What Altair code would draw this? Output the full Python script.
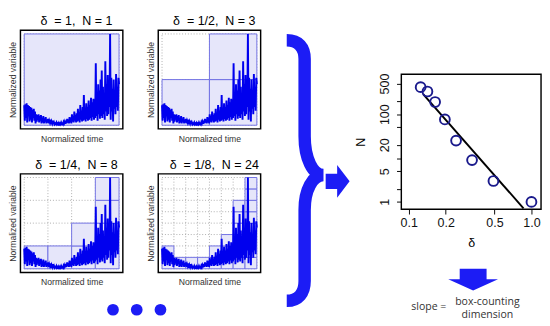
import altair as alt
import pandas as pd
import numpy as np

# ---------------- data ----------------
signal = [
    0.22, 0.05, 0.23, 0.08, 0.24, 0.03, 0.22, 0.10, 0.21, 0.04,
    0.20, 0.06, 0.19, 0.03, 0.17, 0.08, 0.18, 0.05, 0.15, 0.02,
    0.12, 0.04, 0.11, 0.06, 0.12, 0.03, 0.10, 0.05, 0.11, 0.02,
    0.08, 0.03, 0.10, 0.02, 0.07, 0.04, 0.09, 0.02, 0.06, 0.03,
    0.07, 0.02, 0.05, 0.03, 0.06, 0.01, 0.04, 0.02, 0.05, 0.01,
    0.03, 0.01, 0.02, 0.015, 0.03, 0.01, 0.02, 0.01, 0.025, 0.01,
    0.02, 0.01, 0.03, 0.015, 0.02, 0.01, 0.035, 0.02, 0.04, 0.015,
    0.05, 0.02, 0.07, 0.03, 0.06, 0.02, 0.09, 0.03, 0.08, 0.02,
    0.12, 0.04, 0.10, 0.03, 0.15, 0.05, 0.11, 0.03, 0.13, 0.04,
    0.18, 0.05, 0.14, 0.03, 0.22, 0.06, 0.16, 0.04, 0.20, 0.05,
    0.33, 0.06, 0.18, 0.04, 0.24, 0.07, 0.20, 0.05, 0.27, 0.06,
    0.22, 0.08, 0.30, 0.05, 0.25, 0.09, 0.29, 0.06, 0.24, 0.08,
    0.68, 0.10, 0.35, 0.05, 0.45, 0.12, 0.38, 0.07, 0.50, 0.10,
    0.60, 0.08, 0.42, 0.12, 0.35, 0.06, 0.70, 0.15, 0.45, 0.10,
    0.55, 0.12, 0.48, 0.20, 1.00, 0.06, 0.52, 0.15, 0.40, 0.04,
    0.50, 0.18, 0.38, 0.12, 0.56, 0.20, 0.42, 0.16, 0.52, 0.45,
]
panel_delta = ["1", "1/2", "1/4", "1/8"]
panel_N = [1, 3, 8, 24]
panel_div = [1, 2, 4, 8]
box_heights = [[1], [1, 2], [1, 1, 2, 4], [2, 1, 1, 1, 2, 3, 6, 8]]

delta_vals = [0.125, 0.142, 0.164, 0.197, 0.243, 0.328, 0.49, 1.0]
N_vals = [415, 330, 190, 76, 25, 9, 3, 1]
fit_delta = [0.131, 0.862]
fit_N = [287, 0.714]
x_ticks = [0.1, 0.2, 0.5, 1.0]
y_ticks = [1, 2, 5, 10, 20, 50, 100, 200, 500]

dots_x = [1, 2, 3]
caption = ["slope  =", "box-counting", "dimension"]

# ---------------- styles ----------------
LINE_BLUE = "#0000ee"
BOX_FILL = "#e6e6fa"
BOX_STROKE = "#6f6fe3"
BRACE_BLUE = "#1c1cf5"
FONT = "Liberation Sans"

BRACE_PATH = ("M -0.129 -0.936 C -0.043 -0.936 0 -0.886 0 -0.8 L 0 -0.243 "
              "C 0 -0.086 0.057 0.036 0.136 0.036 C 0.057 0.036 0 0.143 0 0.286 "
              "L 0 0.8 C 0 0.886 -0.043 0.943 -0.129 0.943")
RARROW_PATH = "M -0.6 -0.4 L 0 -0.4 L 0 -0.85 L 0.65 0 L 0 0.85 L 0 0.4 L -0.6 0.4 Z"
DARROW_PATH = "M -0.54 -0.42 L 0.54 -0.42 L 0.54 0 L 1 0 L 0 0.46 L -1 0 L -0.54 0 Z"

NOFRAME = alt.ViewBackground(stroke="transparent", strokeWidth=0)


def small_panel(i):
    n = panel_div[i]
    t = np.arange(len(signal)) / (len(signal) - 1)
    line_df = pd.DataFrame({"t": t, "v": signal})
    cells = [(c / n, (c + 1) / n, r / n, (r + 1) / n)
             for c, h in enumerate(box_heights[i]) for r in range(h)]
    cell_df = pd.DataFrame(cells, columns=["x", "x2", "y", "y2"])
    g = [k / n for k in range(n + 1)]
    vg = pd.DataFrame({"x": g, "y": 0.0, "y2": 1.0})
    hg = pd.DataFrame({"y": g, "x": 0.0, "x2": 1.0})
    sc = alt.Scale(domain=[-0.04, 1.04], nice=False, zero=False)
    xa = alt.Axis(title="Normalized time", labels=False, ticks=False, domain=False,
                  grid=False, titleFontSize=9, titlePadding=6, titleFontWeight="normal",
                  titleColor="#333333", titleFont=FONT)
    ya = alt.Axis(title="Normalized variable", labels=False, ticks=False, domain=False,
                  grid=False, titleFontSize=9, titlePadding=3, titleFontWeight="normal",
                  titleColor="#333333", titleFont=FONT)
    vgrid = alt.Chart(vg).mark_rule(color="#aaaaaa", strokeDash=[1, 2], strokeWidth=1).encode(
        x=alt.X("x:Q", scale=sc, axis=xa), y=alt.Y("y:Q", scale=sc, axis=ya), y2="y2:Q")
    hgrid = alt.Chart(hg).mark_rule(color="#aaaaaa", strokeDash=[1, 2], strokeWidth=1).encode(
        y=alt.Y("y:Q", scale=sc, axis=ya), x=alt.X("x:Q", scale=sc, axis=xa), x2="x2:Q")
    boxes = alt.Chart(cell_df).mark_rect(fill=BOX_FILL, stroke=BOX_STROKE, strokeWidth=1).encode(
        x=alt.X("x:Q", scale=sc, axis=xa), x2="x2:Q",
        y=alt.Y("y:Q", scale=sc, axis=ya), y2="y2:Q")
    line = alt.Chart(line_df).mark_line(color=LINE_BLUE, strokeWidth=2).encode(
        x=alt.X("t:Q", scale=sc, axis=xa), y=alt.Y("v:Q", scale=sc, axis=ya))
    title = alt.TitleParams(
        "\u03b4\u00a0\u00a0= {},\u00a0\u00a0N = {}".format(panel_delta[i], panel_N[i]),
        fontSize=13, offset=2, dx=5, fontWeight="normal", font=FONT, color="black",
        anchor="middle")
    return alt.layer(vgrid, hgrid, boxes, line).properties(
        width=107, height=103, title=title,
        view=alt.ViewBackground(stroke="black", strokeWidth=1.5))


row1 = alt.hconcat(small_panel(0), small_panel(1), spacing=23)
row2 = alt.hconcat(small_panel(2), small_panel(3), spacing=23)

dots = alt.Chart(pd.DataFrame({"x": dots_x, "y": [0.5] * 3})).mark_circle(
    size=150, color=BRACE_BLUE, opacity=1).encode(
    x=alt.X("x:Q", scale=alt.Scale(domain=[-2.9, 7.1], nice=False, zero=False), axis=None),
    y=alt.Y("y:Q", scale=alt.Scale(domain=[0, 1]), axis=None)).properties(
    width=248, height=16, view=NOFRAME)

left = alt.vconcat(row1, row2, dots, spacing=15)

# middle: brace + arrow
u = alt.Scale(domain=[0, 1], nice=False, zero=False)
brace = alt.Chart(pd.DataFrame({"x": [0.395], "y": [0.518]})).mark_point(
    shape=BRACE_PATH, size=84000, filled=False, strokeWidth=13, color=BRACE_BLUE,
    opacity=1).encode(x=alt.X("x:Q", scale=u, axis=None), y=alt.Y("y:Q", scale=u, axis=None))
rarrow = alt.Chart(pd.DataFrame({"x": [0.79], "y": [0.479]})).mark_point(
    shape=RARROW_PATH, size=1600, filled=True, strokeWidth=0, color=BRACE_BLUE,
    opacity=1).encode(x=alt.X("x:Q", scale=u, axis=None), y=alt.Y("y:Q", scale=u, axis=None))
middle = alt.layer(brace, rarrow).properties(width=86, height=303, view=NOFRAME)

# right: log-log plot
pts_df = pd.DataFrame({"delta": delta_vals, "N": N_vals})
fit_df = pd.DataFrame({"delta": fit_delta, "N": fit_N})
xs = alt.Scale(type="log", domain=[0.087, 1.197], nice=False)
ys = alt.Scale(type="log", domain=[0.68, 813], nice=False)
xax = alt.Axis(values=x_ticks, format=".1f", title="\u03b4", grid=False, domain=False,
               tickSize=5, tickColor="black", labelFontSize=13, labelColor="#111111",
               labelPadding=3, titleFontSize=13, titleFontWeight="normal", titlePadding=8,
               labelFont=FONT, titleFont=FONT, labelFlush=False, labelOverlap=False)
yax = alt.Axis(values=y_ticks, title="N", grid=False, domain=False, tickSize=5,
               tickColor="black", labelFontSize=13, labelColor="#111111", labelAngle=270,
               labelAlign="center", labelBaseline="bottom", labelPadding=5,
               labelExpr="(datum.value==1||datum.value==5||datum.value==20||datum.value==100||datum.value==500) ? format(datum.value,'d') : ''",
               titleFontSize=13, titleFontWeight="normal", titleAngle=270,
               titleAlign="center", titleBaseline="middle", titleX=-42, titleY=70.5,
               labelFont=FONT, titleFont=FONT, labelFlush=False, labelOverlap=False)
fitline = alt.Chart(fit_df).mark_line(color="black", strokeWidth=2).encode(
    x=alt.X("delta:Q", scale=xs, axis=xax), y=alt.Y("N:Q", scale=ys, axis=yax))
pts = alt.Chart(pts_df).mark_point(shape="circle", filled=False, size=105, strokeWidth=2,
                                   color="#1a1a8c", opacity=1).encode(
    x=alt.X("delta:Q", scale=xs, axis=xax), y=alt.Y("N:Q", scale=ys, axis=yax))
loglog = alt.layer(fitline, pts).properties(
    width=146, height=141, view=alt.ViewBackground(stroke="black", strokeWidth=1.5))

spacer = alt.Chart(pd.DataFrame({"x": [0]})).mark_point(opacity=0).encode(
    x=alt.value(0), y=alt.value(0)).properties(width=10, height=44, view=NOFRAME)

darrow = alt.Chart(pd.DataFrame({"x": [0.514], "y": [0.605]})).mark_point(
    shape=DARROW_PATH, size=2704, filled=True, strokeWidth=0, color=BRACE_BLUE,
    opacity=1).encode(x=alt.X("x:Q", scale=u, axis=None), y=alt.Y("y:Q", scale=u, axis=None))
txt_df = pd.DataFrame({"x": [0.322, 0.616, 0.616], "y": [0.224, 0.29, 0.11],
                       "label": caption})
txt_left = alt.Chart(txt_df.iloc[[0]]).mark_text(
    align="right", baseline="middle", fontSize=11, font="Open Sans", color="#333333").encode(
    x=alt.X("x:Q", scale=u, axis=None), y=alt.Y("y:Q", scale=u, axis=None), text="label:N")
txt_right = alt.Chart(txt_df.iloc[[1, 2]]).mark_text(
    align="center", baseline="middle", fontSize=11, font="Open Sans", color="#333333").encode(
    x=alt.X("x:Q", scale=u, axis=None), y=alt.Y("y:Q", scale=u, axis=None), text="label:N")
bottom = alt.layer(darrow, txt_left, txt_right).properties(width=146, height=76, view=NOFRAME)

right = alt.vconcat(spacer, loglog, bottom, spacing=0)

chart = alt.hconcat(left, middle, right, spacing=0).properties(
    padding={"left": 0, "top": 0, "right": 0, "bottom": 0}
).configure(font=FONT).configure_view(stroke="transparent")

chart.save("out.html", embed_options={"renderer": "svg", "actions": False})
